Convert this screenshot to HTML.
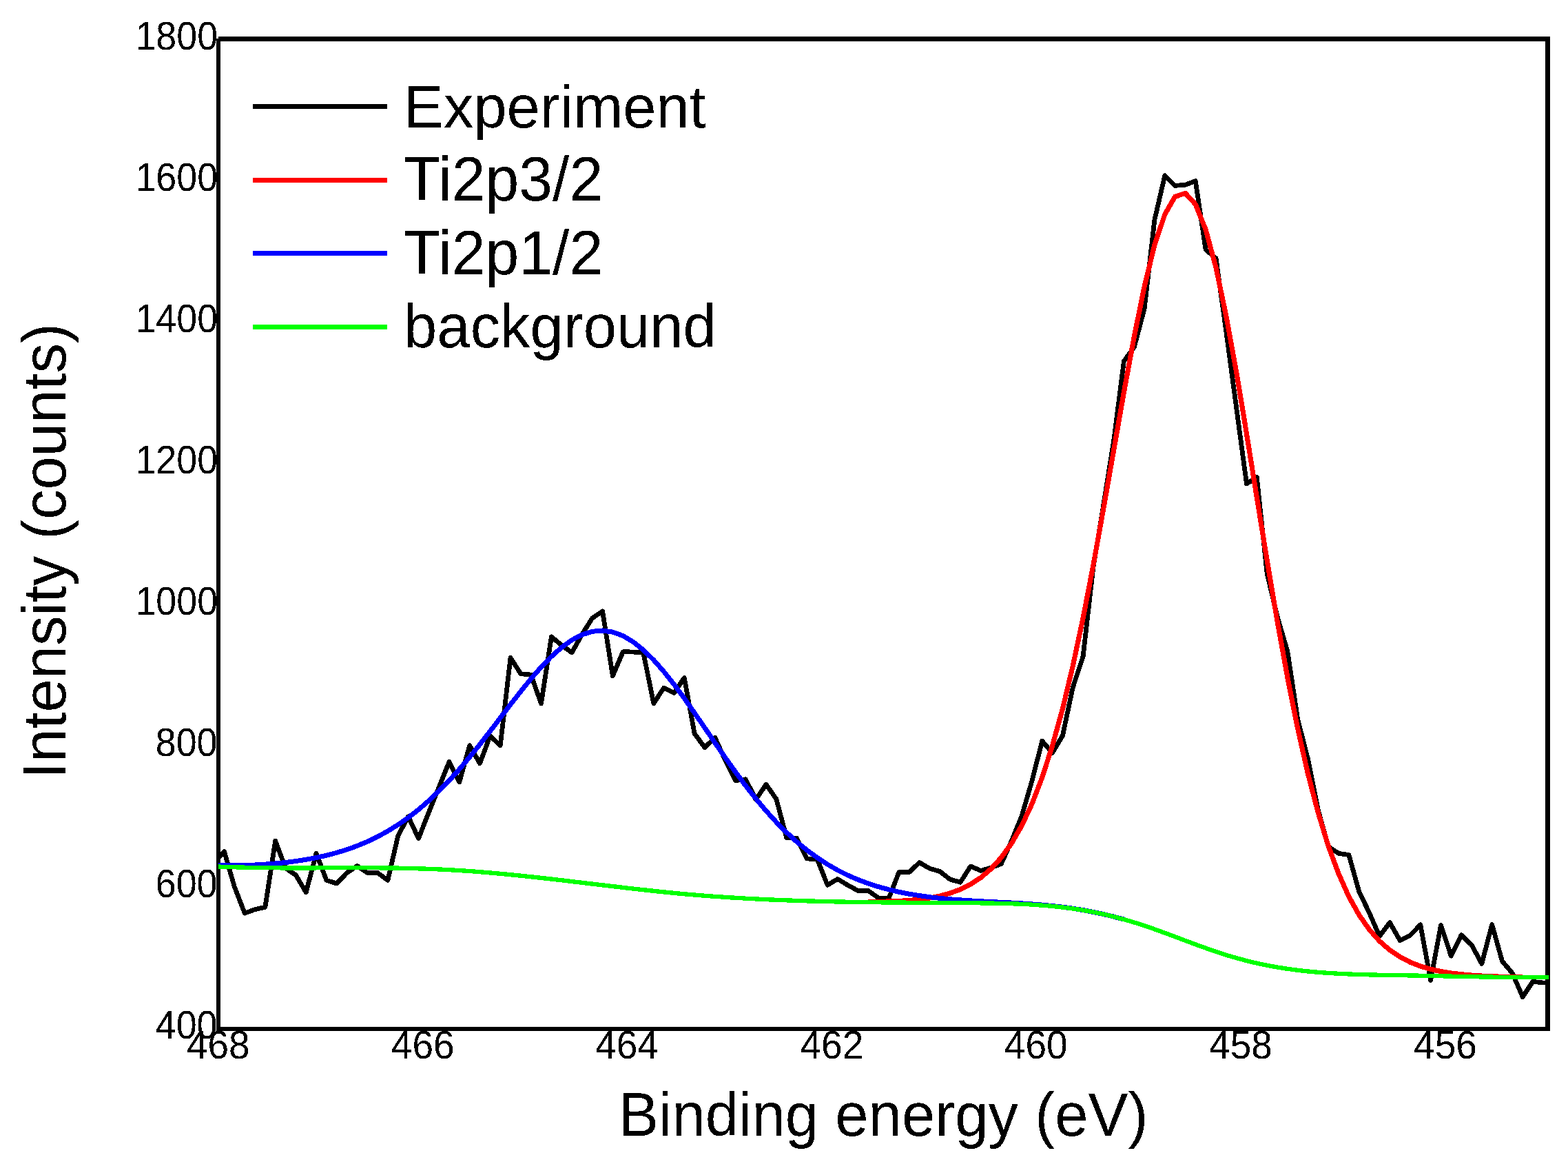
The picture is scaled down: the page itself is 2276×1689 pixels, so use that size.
<!DOCTYPE html>
<html><head><meta charset="utf-8"><title>Ti2p XPS spectrum</title>
<style>
html,body{margin:0;padding:0;background:#fff;width:2276px;height:1689px;overflow:hidden}
svg{display:block}
text{font-family:"Liberation Sans",Arial,sans-serif;fill:#000}
</style></head><body>
<svg xmlns="http://www.w3.org/2000/svg" width="2276" height="1689" viewBox="0 0 2276 1689">
<defs><clipPath id="pc"><rect x="317" y="53" width="1931" height="1443"/></clipPath><filter id="al" x="-5%" y="-20%" width="110%" height="140%" color-interpolation-filters="sRGB"><feComponentTransfer><feFuncA type="discrete" tableValues="0 1"/></feComponentTransfer></filter></defs>
<g stroke="#000" fill="none" shape-rendering="crispEdges"><line x1="317" y1="56" x2="317" y2="1496" stroke-width="6"/><line x1="2246.5" y1="53" x2="2246.5" y2="1496" stroke-width="7"/><line x1="317" y1="56.5" x2="2250" y2="56.5" stroke-width="7"/><line x1="314" y1="1493" x2="2250" y2="1493" stroke-width="6"/></g>
<g clip-path="url(#pc)" fill="none" stroke-linejoin="round" shape-rendering="crispEdges">
<polyline points="310.7,1252.0 325.5,1235.5 340.3,1286.7 355.2,1325.1 370.0,1319.7 384.9,1316.3 399.7,1220.0 414.5,1259.7 429.4,1269.8 444.2,1294.8 459.1,1238.2 473.9,1277.3 488.7,1282.0 503.6,1266.5 518.4,1256.4 533.3,1266.5 548.1,1266.5 562.9,1277.3 577.8,1212.6 592.6,1184.9 607.5,1216.6 622.3,1178.9 637.1,1142.4 652.0,1105.5 666.8,1134.8 681.7,1081.7 696.5,1107.8 711.3,1068.0 726.2,1081.6 741.0,954.4 755.9,977.7 770.7,979.1 785.5,1021.0 800.4,923.9 815.2,936.3 830.1,946.9 844.9,920.3 859.7,897.0 874.6,886.9 889.4,980.6 904.3,945.7 919.1,946.0 933.9,947.4 948.8,1020.7 963.6,998.0 978.5,1005.5 993.3,983.5 1008.1,1064.4 1023.0,1084.7 1037.8,1070.2 1052.7,1102.9 1067.5,1132.7 1082.3,1130.8 1097.2,1160.3 1112.0,1138.2 1126.9,1159.6 1141.7,1215.5 1156.5,1216.2 1171.4,1246.0 1186.2,1246.7 1201.1,1284.2 1215.9,1275.5 1230.7,1284.5 1245.6,1292.5 1260.4,1292.5 1275.3,1303.1 1290.1,1303.4 1304.9,1265.6 1319.8,1265.4 1334.6,1251.6 1349.5,1260.2 1364.3,1264.5 1379.1,1276.1 1394.0,1280.2 1408.8,1257.0 1423.7,1263.4 1438.5,1259.0 1453.3,1253.5 1468.2,1220.5 1483.0,1184.2 1497.9,1133.3 1512.7,1075.3 1527.5,1092.4 1542.4,1067.5 1557.2,997.8 1572.1,952.5 1586.9,823.0 1601.7,733.0 1616.6,640.0 1631.4,524.1 1646.3,503.7 1661.1,448.0 1675.9,319.0 1690.8,254.8 1705.6,269.4 1720.5,268.2 1735.3,262.7 1750.1,362.3 1765.0,374.7 1779.8,481.0 1794.7,592.0 1809.5,702.0 1824.3,692.5 1839.2,832.5 1854.0,894.6 1868.9,945.4 1883.7,1043.7 1898.5,1101.4 1913.4,1175.9 1928.2,1228.5 1943.1,1238.3 1957.9,1240.5 1972.7,1293.6 1987.6,1324.6 2002.4,1358.5 2017.3,1338.5 2032.1,1364.5 2046.9,1357.2 2061.8,1341.9 2076.6,1422.5 2091.5,1342.6 2106.3,1387.1 2121.1,1356.9 2136.0,1371.1 2150.8,1398.3 2165.7,1341.6 2180.5,1394.8 2195.3,1412.2 2210.2,1446.6 2225.0,1424.3 2239.9,1426.0 2254.7,1425.5" stroke="#000" stroke-width="6.8"/>
<polyline points="1260.4,1308.5 1275.3,1308.4 1290.1,1308.0 1304.9,1307.4 1319.8,1306.5 1334.6,1305.1 1349.5,1303.0 1364.3,1300.1 1379.1,1296.0 1394.0,1290.5 1408.8,1283.1 1423.7,1273.4 1438.5,1260.7 1453.3,1244.4 1468.2,1223.9 1483.0,1198.2 1497.9,1166.6 1512.7,1128.2 1527.5,1082.3 1542.4,1028.5 1557.2,966.6 1572.1,896.8 1586.9,820.2 1601.7,738.3 1616.6,653.5 1631.4,569.0 1646.3,488.5 1661.1,416.0 1675.9,355.6 1690.8,311.1 1705.6,285.4 1720.5,280.3 1735.3,296.5 1750.1,333.1 1765.0,388.2 1779.8,458.5 1794.7,540.3 1809.5,629.4 1824.3,721.6 1839.2,813.3 1854.0,901.3 1868.9,983.1 1883.7,1057.3 1898.5,1122.9 1913.4,1179.6 1928.2,1227.8 1943.1,1268.0 1957.9,1301.0 1972.7,1327.6 1987.6,1348.8 2002.4,1365.6 2017.3,1378.6 2032.1,1388.5 2046.9,1396.2 2061.8,1402.0 2076.6,1406.3 2091.5,1409.6 2106.3,1412.0 2121.1,1413.8 2136.0,1415.1 2150.8,1416.1 2165.7,1416.8 2180.5,1417.3 2195.3,1417.6 2210.2,1417.8" stroke="#ff0000" stroke-width="7.2"/>
<polyline points="310.7,1256.0 325.5,1255.9 340.3,1255.9 355.2,1255.5 370.0,1255.0 384.9,1254.1 399.7,1253.0 414.5,1251.5 429.4,1249.6 444.2,1247.3 459.1,1244.5 473.9,1241.2 488.7,1237.3 503.6,1232.7 518.4,1227.4 533.3,1221.2 548.1,1214.1 562.9,1206.0 577.8,1196.7 592.6,1186.4 607.5,1174.8 622.3,1162.0 637.1,1147.9 652.0,1132.6 666.8,1116.1 681.7,1098.6 696.5,1080.2 711.3,1061.2 726.2,1041.7 741.0,1022.3 755.9,1003.2 770.7,985.0 785.5,967.9 800.4,952.6 815.2,939.4 830.1,928.7 844.9,920.9 859.7,916.3 874.6,915.0 889.4,917.1 904.3,922.6 919.1,931.4 933.9,943.2 948.8,957.7 963.6,974.5 978.5,993.2 993.3,1013.3 1008.1,1034.5 1023.0,1056.1 1037.8,1077.8 1052.7,1099.3 1067.5,1120.1 1082.3,1140.1 1097.2,1159.0 1112.0,1176.6 1126.9,1193.0 1141.7,1207.9 1156.5,1221.5 1171.4,1233.7 1186.2,1244.5 1201.1,1254.2 1215.9,1262.7 1230.7,1270.1 1245.6,1276.5 1260.4,1282.0 1275.3,1286.8 1290.1,1290.8 1304.9,1294.3 1319.8,1297.2 1334.6,1299.6 1349.5,1301.7 1364.3,1303.4 1379.1,1304.8 1394.0,1305.9 1408.8,1306.9 1423.7,1307.8 1438.5,1308.5 1453.3,1309.3 1468.2,1310.0 1483.0,1310.9 1497.9,1311.9 1512.7,1313.1 1527.5,1314.5 1542.4,1316.2 1557.2,1318.2 1572.1,1320.6 1586.9,1323.4 1601.7,1326.5 1616.6,1330.1 1631.4,1334.1" stroke="#0000ff" stroke-width="7.0"/>
<polyline points="309.0,1257.5 313.0,1257.5 317.0,1257.5 321.0,1257.7 325.0,1257.8 329.0,1258.0 333.0,1258.1 337.0,1258.2 341.0,1258.3 345.0,1258.4 349.0,1258.5 353.0,1258.6 357.0,1258.7 361.0,1258.8 365.0,1258.9 369.0,1259.0 373.0,1259.0 377.0,1259.1 381.0,1259.1 385.0,1259.2 389.0,1259.2 393.0,1259.3 397.0,1259.3 401.0,1259.3 405.0,1259.3 409.0,1259.4 413.0,1259.4 417.0,1259.4 421.0,1259.4 425.0,1259.4 429.0,1259.4 433.0,1259.4 437.0,1259.4 441.0,1259.4 445.0,1259.4 449.0,1259.4 453.0,1259.4 457.0,1259.4 461.0,1259.3 465.0,1259.3 469.0,1259.3 473.0,1259.3 477.0,1259.3 481.0,1259.3 485.0,1259.3 489.0,1259.3 493.0,1259.2 497.0,1259.2 501.0,1259.2 505.0,1259.2 509.0,1259.2 513.0,1259.2 517.0,1259.2 521.0,1259.2 525.0,1259.2 529.0,1259.2 533.0,1259.2 537.0,1259.3 541.0,1259.3 545.0,1259.3 549.0,1259.3 553.0,1259.4 557.0,1259.4 561.0,1259.4 565.0,1259.5 569.0,1259.5 573.0,1259.6 577.0,1259.6 581.0,1259.7 585.0,1259.8 589.0,1259.9 593.0,1260.0 597.0,1260.0 601.0,1260.2 605.0,1260.3 609.0,1260.4 613.0,1260.5 617.0,1260.6 621.0,1260.8 625.0,1260.9 629.0,1261.1 633.0,1261.3 637.0,1261.4 641.0,1261.6 645.0,1261.8 649.0,1262.0 653.0,1262.2 657.0,1262.5 661.0,1262.7 665.0,1262.9 669.0,1263.2 673.0,1263.5 677.0,1263.7 681.0,1264.0 685.0,1264.3 689.0,1264.6 693.0,1264.9 697.0,1265.2 701.0,1265.6 705.0,1265.9 709.0,1266.2 713.0,1266.6 717.0,1266.9 721.0,1267.3 725.0,1267.7 729.0,1268.0 733.0,1268.4 737.0,1268.8 741.0,1269.2 745.0,1269.6 749.0,1270.0 753.0,1270.4 757.0,1270.8 761.0,1271.2 765.0,1271.7 769.0,1272.1 773.0,1272.5 777.0,1273.0 781.0,1273.4 785.0,1273.8 789.0,1274.3 793.0,1274.7 797.0,1275.2 801.0,1275.6 805.0,1276.1 809.0,1276.6 813.0,1277.0 817.0,1277.5 821.0,1278.0 825.0,1278.4 829.0,1278.9 833.0,1279.4 837.0,1279.9 841.0,1280.3 845.0,1280.8 849.0,1281.3 853.0,1281.8 857.0,1282.3 861.0,1282.7 865.0,1283.2 869.0,1283.7 873.0,1284.2 877.0,1284.6 881.0,1285.1 885.0,1285.6 889.0,1286.1 893.0,1286.5 897.0,1287.0 901.0,1287.5 905.0,1287.9 909.0,1288.4 913.0,1288.9 917.0,1289.3 921.0,1289.8 925.0,1290.2 929.0,1290.7 933.0,1291.1 937.0,1291.5 941.0,1292.0 945.0,1292.4 949.0,1292.8 953.0,1293.3 957.0,1293.7 961.0,1294.1 965.0,1294.5 969.0,1294.9 973.0,1295.3 977.0,1295.7 981.0,1296.1 985.0,1296.5 989.0,1296.8 993.0,1297.2 997.0,1297.6 1001.0,1297.9 1005.0,1298.3 1009.0,1298.6 1013.0,1298.9 1017.0,1299.2 1021.0,1299.6 1025.0,1299.9 1029.0,1300.2 1033.0,1300.5 1037.0,1300.8 1041.0,1301.1 1045.0,1301.3 1049.0,1301.6 1053.0,1301.9 1057.0,1302.1 1061.0,1302.4 1065.0,1302.6 1069.0,1302.9 1073.0,1303.1 1077.0,1303.3 1081.0,1303.6 1085.0,1303.8 1089.0,1304.0 1093.0,1304.2 1097.0,1304.4 1101.0,1304.6 1105.0,1304.8 1109.0,1305.0 1113.0,1305.2 1117.0,1305.4 1121.0,1305.5 1125.0,1305.7 1129.0,1305.9 1133.0,1306.0 1137.0,1306.2 1141.0,1306.3 1145.0,1306.5 1149.0,1306.6 1153.0,1306.8 1157.0,1306.9 1161.0,1307.0 1165.0,1307.1 1169.0,1307.3 1173.0,1307.4 1177.0,1307.5 1181.0,1307.6 1185.0,1307.7 1189.0,1307.8 1193.0,1307.9 1197.0,1308.0 1201.0,1308.1 1205.0,1308.2 1209.0,1308.3 1213.0,1308.4 1217.0,1308.4 1221.0,1308.5 1225.0,1308.6 1229.0,1308.7 1233.0,1308.7 1237.0,1308.8 1241.0,1308.9 1245.0,1308.9 1249.0,1309.0 1253.0,1309.0 1257.0,1309.1 1261.0,1309.1 1265.0,1309.2 1269.0,1309.2 1273.0,1309.3 1277.0,1309.3 1281.0,1309.4 1285.0,1309.4 1289.0,1309.4 1293.0,1309.5 1297.0,1309.5 1301.0,1309.5 1305.0,1309.6 1309.0,1309.6 1313.0,1309.6 1317.0,1309.7 1321.0,1309.7 1325.0,1309.7 1329.0,1309.8 1333.0,1309.8 1337.0,1309.8 1341.0,1309.8 1345.0,1309.9 1349.0,1309.9 1353.0,1309.9 1357.0,1309.9 1361.0,1310.0 1365.0,1310.0 1369.0,1310.0 1373.0,1310.0 1377.0,1310.0 1381.0,1310.1 1385.0,1310.1 1389.0,1310.1 1393.0,1310.1 1397.0,1310.2 1401.0,1310.2 1405.0,1310.2 1409.0,1310.2 1413.0,1310.3 1417.0,1310.3 1421.0,1310.3 1425.0,1310.4 1429.0,1310.4 1433.0,1310.5 1437.0,1310.5 1441.0,1310.6 1445.0,1310.7 1449.0,1310.7 1453.0,1310.8 1457.0,1310.9 1461.0,1311.0 1465.0,1311.1 1469.0,1311.3 1473.0,1311.4 1477.0,1311.6 1481.0,1311.7 1485.0,1311.9 1489.0,1312.1 1493.0,1312.3 1497.0,1312.6 1501.0,1312.8 1505.0,1313.1 1509.0,1313.4 1513.0,1313.7 1517.0,1314.0 1521.0,1314.3 1525.0,1314.7 1529.0,1315.1 1533.0,1315.5 1537.0,1315.9 1541.0,1316.4 1545.0,1316.8 1549.0,1317.3 1553.0,1317.9 1557.0,1318.4 1561.0,1319.0 1565.0,1319.6 1569.0,1320.2 1573.0,1320.9 1577.0,1321.6 1581.0,1322.3 1585.0,1323.1 1589.0,1323.9 1593.0,1324.7 1597.0,1325.6 1601.0,1326.4 1605.0,1327.3 1609.0,1328.3 1613.0,1329.3 1617.0,1330.3 1621.0,1331.3 1625.0,1332.4 1629.0,1333.4 1633.0,1334.6 1637.0,1335.7 1641.0,1336.9 1645.0,1338.1 1649.0,1339.3 1653.0,1340.6 1657.0,1341.9 1661.0,1343.2 1665.0,1344.5 1669.0,1345.9 1673.0,1347.3 1677.0,1348.7 1681.0,1350.2 1685.0,1351.6 1689.0,1353.1 1693.0,1354.5 1697.0,1356.0 1701.0,1357.5 1705.0,1359.0 1709.0,1360.5 1713.0,1362.0 1717.0,1363.5 1721.0,1365.1 1725.0,1366.5 1729.0,1368.0 1733.0,1369.5 1737.0,1371.0 1741.0,1372.5 1745.0,1373.9 1749.0,1375.3 1753.0,1376.8 1757.0,1378.2 1761.0,1379.5 1765.0,1380.9 1769.0,1382.2 1773.0,1383.5 1777.0,1384.8 1781.0,1386.1 1785.0,1387.3 1789.0,1388.5 1793.0,1389.6 1797.0,1390.7 1801.0,1391.8 1805.0,1392.9 1809.0,1393.9 1813.0,1395.0 1817.0,1395.9 1821.0,1396.9 1825.0,1397.8 1829.0,1398.7 1833.0,1399.5 1837.0,1400.3 1841.0,1401.1 1845.0,1401.9 1849.0,1402.6 1853.0,1403.3 1857.0,1404.0 1861.0,1404.6 1865.0,1405.3 1869.0,1405.8 1873.0,1406.4 1877.0,1406.9 1881.0,1407.5 1885.0,1408.0 1889.0,1408.4 1893.0,1408.9 1897.0,1409.3 1901.0,1409.7 1905.0,1410.1 1909.0,1410.4 1913.0,1410.8 1917.0,1411.1 1921.0,1411.4 1925.0,1411.7 1929.0,1411.9 1933.0,1412.2 1937.0,1412.4 1941.0,1412.7 1945.0,1412.9 1949.0,1413.1 1953.0,1413.2 1957.0,1413.4 1961.0,1413.6 1965.0,1413.7 1969.0,1413.9 1973.0,1414.0 1977.0,1414.1 1981.0,1414.2 1985.0,1414.3 1989.0,1414.4 1993.0,1414.5 1997.0,1414.6 2001.0,1414.7 2005.0,1414.7 2009.0,1414.8 2013.0,1414.9 2017.0,1415.0 2021.0,1415.0 2025.0,1415.1 2029.0,1415.1 2033.0,1415.2 2037.0,1415.3 2041.0,1415.3 2045.0,1415.4 2049.0,1415.5 2053.0,1415.6 2057.0,1415.6 2061.0,1415.7 2065.0,1415.8 2069.0,1415.9 2073.0,1415.9 2077.0,1416.0 2081.0,1416.1 2085.0,1416.2 2089.0,1416.2 2093.0,1416.3 2097.0,1416.4 2101.0,1416.5 2105.0,1416.6 2109.0,1416.7 2113.0,1416.7 2117.0,1416.8 2121.0,1416.9 2125.0,1417.0 2129.0,1417.0 2133.0,1417.1 2137.0,1417.2 2141.0,1417.3 2145.0,1417.3 2149.0,1417.4 2153.0,1417.5 2157.0,1417.5 2161.0,1417.6 2165.0,1417.6 2169.0,1417.7 2173.0,1417.7 2177.0,1417.8 2181.0,1417.8 2185.0,1417.9 2189.0,1417.9 2193.0,1418.0 2197.0,1418.0 2201.0,1418.0 2205.0,1418.0 2209.0,1418.1 2213.0,1418.1 2217.0,1418.1 2221.0,1418.1 2225.0,1418.1 2229.0,1418.1 2233.0,1418.1 2237.0,1418.0 2241.0,1418.0 2245.0,1418.0 2249.0,1418.0 2253.0,1418.0 2257.0,1418.0" stroke="#00ff00" stroke-width="6.3"/>
</g>
<text filter="url(#al)" transform="translate(196.44,71.60) scale(0.9780,1.0316)" style="font-size:55px">1800</text>
<text filter="url(#al)" transform="translate(196.44,276.67) scale(0.9780,1.0316)" style="font-size:55px">1600</text>
<text filter="url(#al)" transform="translate(196.44,481.74) scale(0.9780,1.0316)" style="font-size:55px">1400</text>
<text filter="url(#al)" transform="translate(196.44,686.81) scale(0.9780,1.0316)" style="font-size:55px">1200</text>
<text filter="url(#al)" transform="translate(196.44,891.88) scale(0.9780,1.0316)" style="font-size:55px">1000</text>
<text filter="url(#al)" transform="translate(225.78,1096.95) scale(0.9780,1.0316)" style="font-size:55px">800</text>
<text filter="url(#al)" transform="translate(225.78,1302.02) scale(0.9780,1.0316)" style="font-size:55px">600</text>
<text filter="url(#al)" transform="translate(225.78,1507.09) scale(0.9780,1.0316)" style="font-size:55px">400</text>
<text filter="url(#al)" transform="translate(270.95,1536.00) scale(1.0000,1.0289)" style="font-size:55px">468</text>
<text filter="url(#al)" transform="translate(567.80,1536.00) scale(1.0000,1.0289)" style="font-size:55px">466</text>
<text filter="url(#al)" transform="translate(864.15,1536.00) scale(1.0000,1.0289)" style="font-size:55px">464</text>
<text filter="url(#al)" transform="translate(1161.50,1536.00) scale(1.0000,1.0289)" style="font-size:55px">462</text>
<text filter="url(#al)" transform="translate(1457.85,1536.00) scale(1.0000,1.0289)" style="font-size:55px">460</text>
<text filter="url(#al)" transform="translate(1755.20,1536.00) scale(1.0000,1.0289)" style="font-size:55px">458</text>
<text filter="url(#al)" transform="translate(2052.05,1536.00) scale(1.0000,1.0289)" style="font-size:55px">456</text>
<text filter="url(#al)" transform="translate(898.08,1647.80) scale(0.9880,1.0100)" style="font-size:88px">Binding energy (eV)</text>
<text filter="url(#al)" transform="translate(95.00,1129.89) rotate(-90) scale(0.9863,1.0100)" style="font-size:88px">Intensity (counts)</text>
<line x1="367" y1="154.5" x2="562" y2="154.5" stroke="#000" stroke-width="7" shape-rendering="crispEdges"/>
<text filter="url(#al)" transform="translate(586.00,184.80) scale(0.9863,1.0000)" style="font-size:88px">Experiment</text>
<line x1="367" y1="261.2" x2="562" y2="261.2" stroke="#ff0000" stroke-width="7" shape-rendering="crispEdges"/>
<text filter="url(#al)" transform="translate(585.80,290.90) scale(0.9975,1.0300)" style="font-size:88px">Ti2p3/2</text>
<line x1="367" y1="367.8" x2="562" y2="367.8" stroke="#0000ff" stroke-width="7" shape-rendering="crispEdges"/>
<text filter="url(#al)" transform="translate(585.80,398.00) scale(0.9975,1.0300)" style="font-size:88px">Ti2p1/2</text>
<line x1="367" y1="474.5" x2="562" y2="474.5" stroke="#00ff00" stroke-width="7" shape-rendering="crispEdges"/>
<text filter="url(#al)" transform="translate(586.08,504.30) scale(0.9866,1.0050)" style="font-size:88px">background</text>
</svg>
</body></html>
